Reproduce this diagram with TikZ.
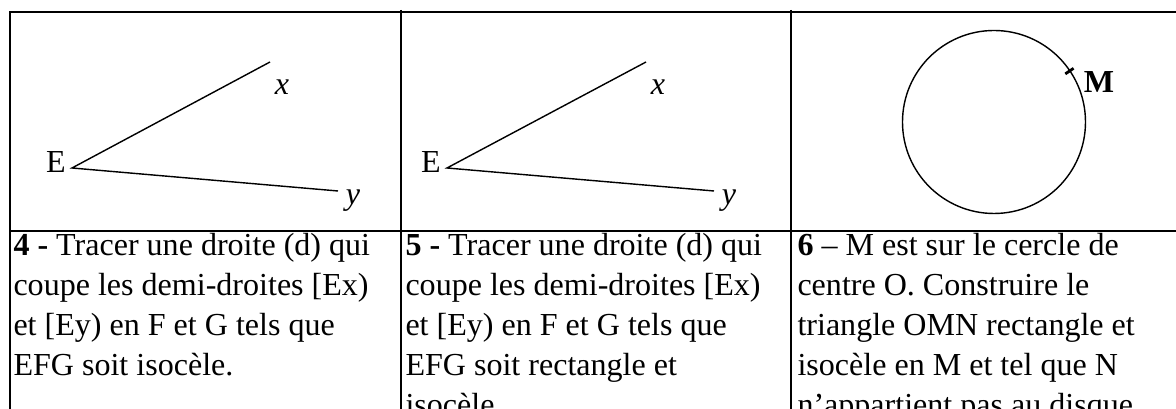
\documentclass[tikz,border=0pt]{standalone}
\usepackage{fontspec}
\setmainfont{Liberation Serif}
\usetikzlibrary{positioning,calc}

\begin{document}
\begin{tikzpicture}[x=0.39pt,y=-0.39pt]
\tikzset{
 rule/.style={line width=0.8pt},
 ray/.style={line width=0.55pt},
 lbl/.style={inner sep=0pt,font=\fontsize{12.5}{14}\selectfont},
 cell/.style={anchor=base west,inner sep=0pt,align=left,font=\fontsize{12.5}{15.6}\selectfont}
}
\useasboundingbox (0,0) rectangle (1176,409);
% table rules
\draw[rule] (10,409) -- (10,11);
\draw[rule] (10,12) -- (1176,12);
\draw[rule] (10,231) -- (1176,231);
\foreach \cx in {401,791}
  \draw[rule] (\cx,10) -- (\cx,409);

% exercise 4 and 5: angle xEy
\coordinate (E4) at (72,168);
\coordinate (X4) at (270,62);
\coordinate (Y4) at (338,191);
\coordinate (E5) at (447,168);
\coordinate (X5) at (646,62);
\coordinate (Y5) at (714,191);
\draw[ray] (X4) -- (E4) -- (Y4);
\draw[ray] (X5) -- (E5) -- (Y5);
\node[lbl] (e4) at (56,162) {E};
\node[lbl] (x4) at (282,87) {\textit{x}};
\node[lbl] (y4) at (353,201) {\textit{y}};
\node[lbl] (e5) at (431,162) {E};
\node[lbl] (x5) at (658,87) {\textit{x}};
\node[lbl] (y5) at (729,201) {\textit{y}};

% exercise 6: circle and point M
\coordinate (O) at (994,122);
\draw[ray] (O) circle[radius=91.5];
\draw[line width=1.1pt] ($(O)+(-34:86)$) -- ($(O)+(-34:96)$);
\node[lbl,font=\fontsize{12.5}{14}\selectfont\bfseries] (m) at (1099,82) {M};

% statements (anchored on the baseline of their last line)
\node[cell] (t4) at (13,376) {\textbf{4 -} Tracer une droite (d) qui\\coupe les demi-droites [Ex)\\et [Ey) en F et G tels que\\EFG soit isocèle.};
\node[cell] (t5) at (405,416) {\textbf{5 -} Tracer une droite (d) qui\\coupe les demi-droites [Ex)\\et [Ey) en F et G tels que\\EFG soit rectangle et\\isocèle.};
\node[cell] (t6) at (797,416) {\textbf{6} – M est sur le cercle de\\centre O. Construire le\\triangle OMN rectangle et\\isocèle en M et tel que N\\n’appartient pas au disque.};
\end{tikzpicture}
\end{document}
